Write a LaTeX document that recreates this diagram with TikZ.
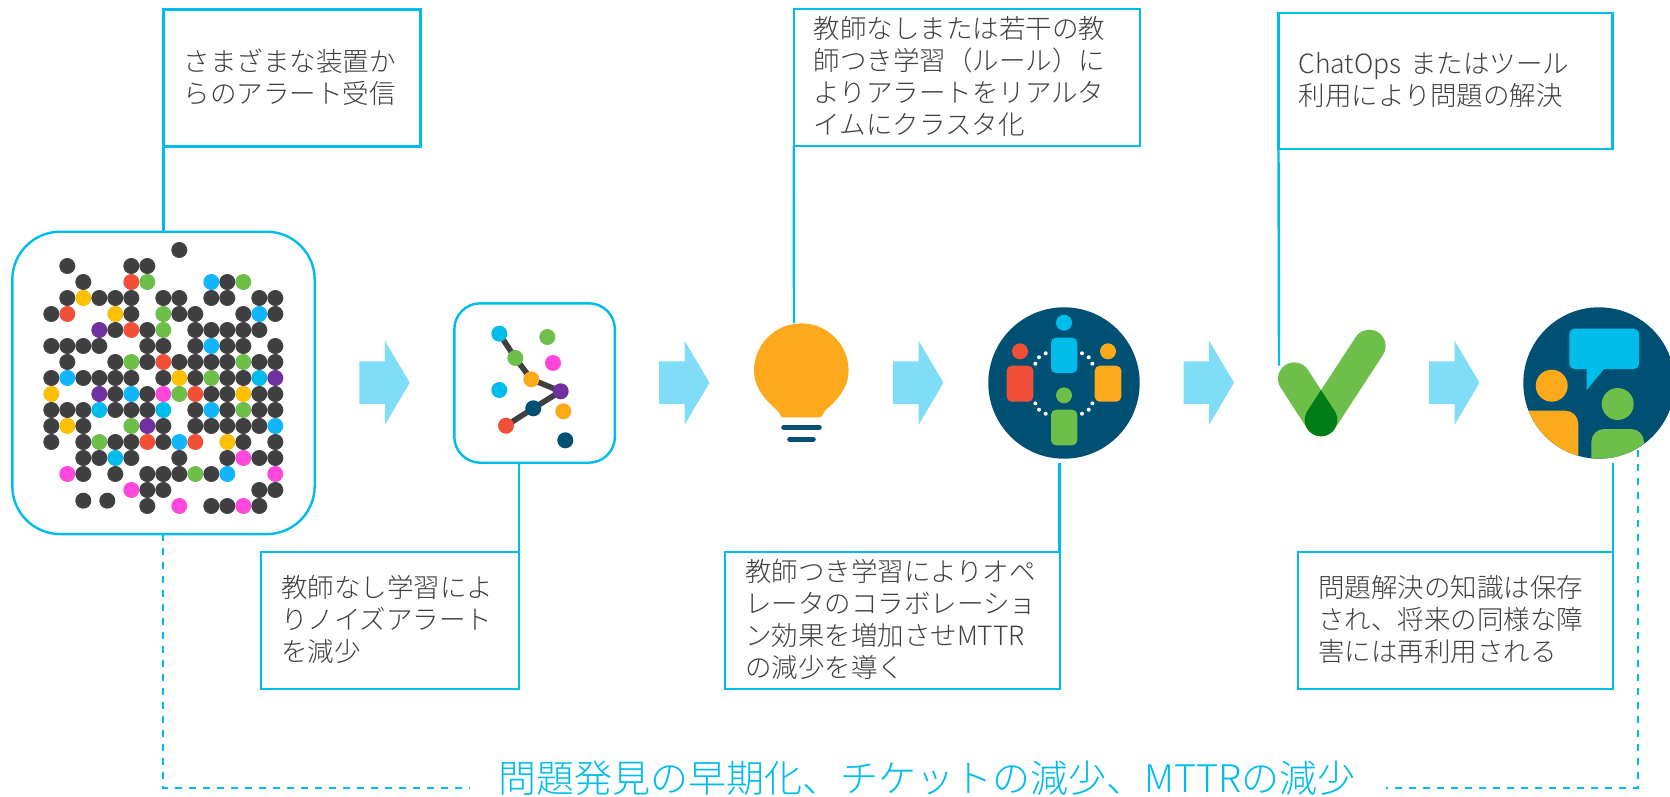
\documentclass[tikz,border=0pt]{standalone}
\usepackage{fontspec}
\setmainfont{Noto Sans CJK JP Light}
\usetikzlibrary{positioning,calc}
\definecolor{cy}{HTML}{00BCEB}
\definecolor{arrowc}{HTML}{80DDF7}
\definecolor{orangec}{HTML}{FCAA1B}
\definecolor{greenc}{HTML}{6EBE4A}
\definecolor{darkg}{HTML}{007D16}
\definecolor{redc}{HTML}{F24F38}
\definecolor{navy}{HTML}{005073}
\definecolor{dk}{HTML}{404042}
\definecolor{pu}{HTML}{7030A0}
\definecolor{ma}{HTML}{FF47DC}
\definecolor{bl}{HTML}{12B5FF}
\definecolor{ye}{HTML}{FCC000}
\tikzset{
  every node/.style={inner sep=0pt,outer sep=0pt},
  txtbox/.style={draw=cy,line width=1.2pt,fill=white,align=left,anchor=north west,text=dk,inner xsep=10pt,
     font=\fontsize{13.25pt}{16pt}\selectfont,execute at end node={\par\vspace{1pt}}},
  rrect/.style={draw=cy,line width=1.2pt,fill=white,rounded corners=#1},
  link/.style={draw=cy,line width=1.2pt},
  dashlink/.style={draw=cy,line width=1pt,dash pattern=on 3.5pt off 3.5pt},
  blockarrow/.style={fill=arrowc}
}
\newcommand{\blockar}[1]{\fill[blockarrow] (#1,361.3) -- ++(25.5,0) -- ++(0,-20.6) -- ++(25,42) -- ++(-25,42.3) -- ++(0,-21) -- ++(-25.5,0) -- cycle;}
\newcommand{\dotrow}[2]{\foreach \c/\k in {#2} {\fill[\k] ({51.3+16*\c},{250+16*#1}) circle[radius=8];}}
\begin{document}
\begin{tikzpicture}[x=0.5pt,y=-0.5pt]
\useasboundingbox (0,0) rectangle (1670,797);
% text boxes
\node[txtbox,minimum width=128.5pt,minimum height=68.5pt,text width=108.5pt] (b1) at (163.5,9.5) {さまざまな装置か\\らのアラート受信};
\node[txtbox,minimum width=173pt,minimum height=68.5pt,text width=153pt] (b3) at (793.7,9.3) {教師なしまたは若干の教\\師つき学習（ルール）に\\よりアラートをリアルタ\\イムにクラスタ化};
\node[txtbox,minimum width=167pt,minimum height=68pt,text width=147pt] (b5) at (1278.5,12.8) {ChatOps またはツール\\利用により問題の解決};
\node[txtbox,minimum width=129pt,minimum height=68.5pt,text width=109pt] (b2) at (261,552) {教師なし学習によ\\りノイズアラート\\を減少};
\node[txtbox,minimum width=167.5pt,minimum height=68.5pt,text width=147.5pt] (b4) at (725,552) {教師つき学習によりオペ\\レータのコラボレーショ\\ン効果を増加させMTTR\\の減少を導く};
\node[txtbox,minimum width=157.5pt,minimum height=68.5pt,text width=137.5pt] (b6) at (1298,552) {問題解決の知識は保存\\され、将来の同様な障\\害には再利用される};
% icon holders
\node[rrect=24pt,minimum width=151.2pt,minimum height=151.2pt,anchor=north west] (rr1) at (12.3,231.7) {};
\node[rrect=13pt,minimum width=80.3pt,minimum height=79.7pt,anchor=north west] (rr2) at (454.3,303.3) {};
\coordinate (bulbtop) at (794,323);
\coordinate (checktop) at (1279,365.7);
\coordinate (teamlow) at (1059.5,462.7);
\coordinate (chatlow) at (1613,462.7);
\coordinate (chatdash) at (1638,450);
\coordinate (lowL) at (163,787.7);
\coordinate (lowR) at (1638,787.7);
\coordinate (gapL) at (470,787.7);
\coordinate (gapR) at (1386,787.7);
% connectors
\draw[link] (b1.south west) -- (b1.south west |- rr1.north);
\draw[link] (b3.south west) -- (bulbtop);
\draw[link] (b5.south west) -- (checktop);
\draw[link] (rr2.south -| b2.north east) -- (b2.north east);
\draw[link] (teamlow) -- (teamlow |- b4.north);
\draw[link] (chatlow) -- (chatlow |- b6.north);
\draw[dashlink] (rr1.south -| lowL) -- (lowL) -- (gapL);
\draw[dashlink] (chatdash) -- (lowR) -- (gapR);
% block arrows
\blockar{359.3}\blockar{659}\blockar{893}\blockar{1183.5}\blockar{1429}
% alert dots
\dotrow{0}{8/dk}
\dotrow{1}{1/dk,5/dk,6/dk}
\dotrow{2}{2/dk,5/redc,6/greenc,10/bl,11/dk,12/greenc}
\dotrow{3}{1/dk,2/ye,3/dk,4/dk,5/dk,7/dk,8/dk,10/dk,11/dk,13/dk,14/dk}
\dotrow{4}{0/dk,1/redc,4/ye,5/dk,7/greenc,8/dk,9/dk,12/dk,13/bl,14/dk}
\dotrow{5}{3/pu,4/dk,5/redc,6/dk,7/greenc,9/dk,10/dk,11/dk,12/dk,13/dk}
\dotrow{6}{0/dk,1/dk,2/dk,3/dk,6/dk,7/dk,9/dk,10/bl,11/dk,12/dk,14/dk}
\dotrow{7}{1/dk,4/dk,5/greenc,6/dk,7/redc,8/dk,9/dk,10/dk,11/dk,12/greenc,13/dk,14/dk}
\dotrow{8}{0/dk,1/bl,2/dk,3/dk,4/dk,5/dk,7/dk,8/ye,9/dk,10/greenc,11/dk,12/dk,13/cy,14/pu}
\dotrow{9}{0/ye,3/pu,4/dk,5/bl,6/dk,7/ma,8/greenc,9/redc,10/dk,11/dk,12/ye,13/dk,14/dk}
\dotrow{10}{0/dk,1/dk,2/dk,3/cy,4/dk,5/dk,6/dk,7/cy,9/dk,10/bl,11/dk,12/greenc,13/dk,14/dk}
\dotrow{11}{0/dk,1/ye,2/dk,5/greenc,6/pu,7/dk,9/dk,10/dk,11/dk,12/dk,13/dk,14/bl}
\dotrow{12}{0/dk,2/dk,3/greenc,4/dk,5/dk,6/redc,7/dk,8/bl,9/redc,11/ye,12/dk,14/dk}
\dotrow{13}{2/dk,3/dk,4/cy,5/dk,8/dk,11/dk,12/ma,13/dk,14/dk}
\dotrow{14}{1/ma,2/dk,4/dk,6/dk,7/dk,8/dk,9/greenc,10/dk,11/bl,14/ma}
\dotrow{15}{5/ma,6/dk,7/dk,13/dk,14/dk}
\dotrow{16}{6/dk,8/ma,10/dk,11/dk,12/ma,13/dk}
\fill[dk] (83.3,500.7) circle[radius=8] (107.3,500.7) circle[radius=8];
% cluster icon
\draw[dk,line width=2.8pt] (499.3,333.7) -- (515.3,358) -- (531.3,379.3) -- (560.7,391.3) -- (533.3,408.3) -- (506,425.7);
\fill[cy] (499.3,333.7) circle[radius=8];
\fill[greenc] (515.3,358) circle[radius=8];
\fill[orangec] (531.3,379.3) circle[radius=8];
\fill[pu] (560.7,391.3) circle[radius=8];
\fill[navy] (533.3,408.3) circle[radius=8];
\fill[redc] (506,425.7) circle[radius=8];
\fill[greenc] (547.3,337) circle[radius=8];
\fill[ma] (553,363) circle[radius=8];
\fill[cy] (499.3,390) circle[radius=8];
\fill[orangec] (563.3,411.3) circle[radius=8];
\fill[navy] (565.3,440.3) circle[radius=8];
% bulb
\fill[orangec] (781.7,417.3) .. controls (780,414) and (778,411) .. (775,408.3) .. controls (762,397) and (754,385) .. (754,370.7) .. controls (754,344.6) and (775.2,323.4) .. (801.3,323.4) .. controls (827.4,323.4) and (848.6,344.6) .. (848.6,370.7) .. controls (848.6,385) and (840.6,397) .. (827.6,408.3) .. controls (824.6,411) and (822.6,414) .. (820.9,417.3) -- cycle;
\draw[navy,line width=2.8pt,line cap=round] (784,427.3) -- (819,427.3);
\draw[navy,line width=2.8pt,line cap=round] (790,439.3) -- (813,439.3);
% team icon
\fill[navy] (1064,383) circle[radius=75.7];
\fill[cy] (1064,322.7) circle[radius=8];
\fill[cy,rounded corners=2.5pt] (1051,337.7) rectangle (1077.3,373);
\fill[redc] (1020,351.3) circle[radius=8];
\fill[redc,rounded corners=2.5pt] (1006.7,365.7) rectangle (1033.3,401.7);
\fill[orangec] (1108,351.3) circle[radius=8];
\fill[orangec,rounded corners=2.5pt] (1094.7,365.7) rectangle (1121.3,401.7);
\fill[greenc] (1064,395.3) circle[radius=8];
\fill[greenc,rounded corners=2.5pt] (1051,409.7) rectangle (1077.3,445.3);
\foreach \p in {(1045.7,353.3),(1039,357.3),(1035.3,363.7),(1082,353.3),(1088.7,357.3),(1092.3,363.7),(1035.3,403.3),(1039,409.7),(1045.7,413.7),(1092.3,403.3),(1088.7,409.7),(1082,413.7)} {\fill[white] \p circle[radius=2];}
% check icon
\draw[greenc,line width=16.3pt,line cap=round,line join=round] (1294.3,378.7) -- (1321,420) -- (1369.3,346);
\fill[darkg] (1321,420) circle[radius=16.3];
\fill[darkg] (1321,390) -- (1307.3,411.1) -- (1334.7,411.1) -- cycle;
% chat icon
\fill[navy] (1599,383) circle[radius=75.7];
\begin{scope}
\clip (1599,383) circle[radius=75.7];
\fill[orangec] (1551.7,385.7) circle[radius=16];
\fill[orangec,rounded corners=6.5pt] (1500,410.7) rectangle (1578.3,500);
\fill[greenc] (1617.7,404) circle[radius=16];
\fill[greenc,rounded corners=6.5pt] (1591.3,429) rectangle (1644,500);
\fill[cy,rounded corners=2.5pt] (1569.3,328.7) rectangle (1639,369);
\fill[cy] (1586.7,368) -- (1586.7,390) -- (1605,368) -- cycle;
\end{scope}
% bottom label
\node[text=cy,font=\fontsize{19pt}{20pt}\selectfont] (lbl) at (927,778) {問題発見の早期化、チケットの減少、MTTRの減少};
\end{tikzpicture}
\end{document}
